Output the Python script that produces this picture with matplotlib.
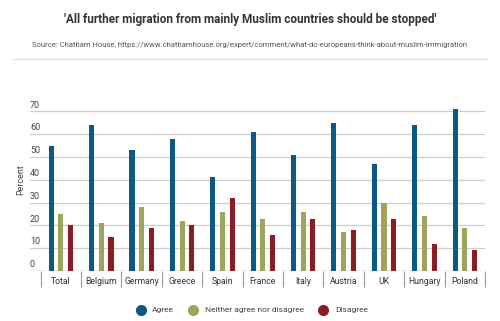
import matplotlib
matplotlib.use("Agg")
import matplotlib.pyplot as plt
from matplotlib.lines import Line2D
import numpy as np

plt.rcParams['font.family'] = ['Roboto', 'DejaVu Sans']

categories = ["Total", "Belgium", "Germany", "Greece", "Spain", "France",
              "Italy", "Austria", "UK", "Hungary", "Poland"]
agree = [55, 64, 53, 58, 41, 61, 51, 65, 47, 64, 71]
neither = [25, 21, 28, 22, 26, 23, 26, 17, 30, 24, 19]
disagree = [20, 15, 19, 20, 32, 16, 23, 18, 23, 12, 9]
series_names = ["Agree", "Neither agree nor disagree", "Disagree"]
colors = ["#0e5886", "#9fa35d", "#8b1c25"]
yticks = [0, 10, 20, 30, 40, 50, 60, 70]

W, H = 500, 321
fig = plt.figure(figsize=(W / 100, H / 100), dpi=100)
fig.patch.set_facecolor("white")

left, right, bottom_px, top_px = 30, 485, 271, 106.8
ax = fig.add_axes([left / W, (H - bottom_px) / H, (right - left) / W, (bottom_px - top_px) / H])

x = np.arange(len(categories))
width = 0.125
offset = 0.24
for i, (vals, c) in enumerate(zip([agree, neither, disagree], colors)):
    ax.bar(x + (i - 1) * offset, vals, width=width, color=c, zorder=3)

ax.set_xlim(-0.765, len(categories) - 0.5)
ax.set_ylim(0, 72)

for s in ax.spines.values():
    s.set_visible(False)

for v in yticks:
    ax.axhline(v, color="#888888" if v == 0 else "#cfcfcf", lw=0.9, zorder=1)
    ax.text(0.0, v + 0.8, str(v), transform=ax.get_yaxis_transform(),
            ha="left", va="bottom", fontsize=6.5, color="#444444")
ax.set_yticks([])

ax.set_xticks(x)
ax.set_xticklabels(categories, fontsize=6.2, color="#333333")
ax.tick_params(axis="x", which="major", length=0, pad=4.5)
ax.set_xticks(np.arange(-0.5, len(categories), 1.0), minor=True)
ax.tick_params(axis="x", which="minor", length=11.5, width=0.8, color="#999999", direction="out")

fig.text(21 / W, 1 - 180 / H, "Percent", rotation=90, ha="center", va="center",
         fontsize=6.5, color="#444444")

fig.text(0.5, 1 - 20 / H, "'All further migration from mainly Muslim countries should be stopped'",
         ha="center", va="center", fontsize=8.5, fontweight="bold", color="#333333")
fig.text(0.5, 1 - 45 / H,
         "Source: Chatham House, https://www.chathamhouse.org/expert/comment/what-do-europeans-think-about-muslim-immigration",
         ha="center", va="center", fontsize=5.5, color="#555555")
fig.add_artist(Line2D([13 / W, 487 / W], [1 - 59 / H, 1 - 59 / H], color="#dddddd", lw=0.8))

handles = [Line2D([], [], marker="o", ls="", markersize=7, markerfacecolor=c, markeredgecolor=c)
           for c in colors]
fig.legend(handles, series_names, loc="center", bbox_to_anchor=(0.5, 1 - 310 / H), ncol=3,
           frameon=False, fontsize=6.0, handletextpad=0.4, columnspacing=1.3,
           labelcolor="#444444")

fig.savefig("out.png", dpi=100, facecolor="white")
